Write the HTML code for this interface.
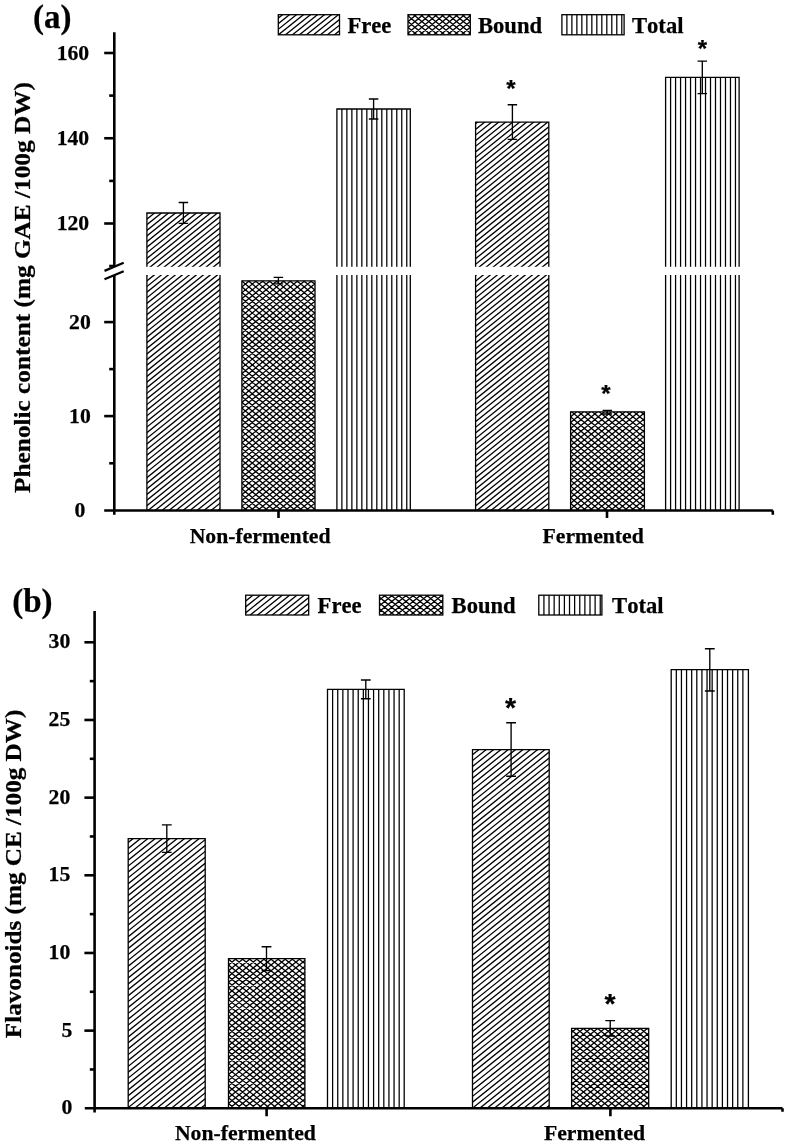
<!DOCTYPE html>
<html lang="en"><head><meta charset="utf-8"><title>Phenolic content and flavonoids</title>
<style>
html,body{margin:0;padding:0;background:#fff;}
body{width:786px;height:1147px;overflow:hidden;}
svg{display:block;will-change:transform;}
text{font-family:"Liberation Serif", "Times New Roman", serif;font-weight:bold;fill:#000;stroke:#000;stroke-width:0.25px;font-kerning:none;font-variant-ligatures:none;}
.t{font-size:21.7px;}
.lg{font-size:22.6px;}
.pl{font-size:33px;}
.yl{font-size:24.1px;}
.st{font-family:"Liberation Sans",sans-serif;}
</style></head><body>
<svg width="786" height="1147" viewBox="0 0 786 1147" shape-rendering="auto">

<clipPath id="c1"><rect x="146.90" y="213.00" width="73.10" height="297.50"/></clipPath>
<path clip-path="url(#c1)" d="M144.90,203.84L222.00,141.94M144.90,209.46L222.00,147.56M144.90,215.08L222.00,153.18M144.90,220.70L222.00,158.80M144.90,226.32L222.00,164.42M144.90,231.94L222.00,170.04M144.90,237.56L222.00,175.66M144.90,243.18L222.00,181.28M144.90,248.80L222.00,186.90M144.90,254.42L222.00,192.52M144.90,260.04L222.00,198.14M144.90,265.66L222.00,203.76M144.90,271.28L222.00,209.38M144.90,276.90L222.00,215.00M144.90,282.52L222.00,220.62M144.90,288.14L222.00,226.24M144.90,293.76L222.00,231.86M144.90,299.38L222.00,237.48M144.90,305.00L222.00,243.10M144.90,310.62L222.00,248.72M144.90,316.24L222.00,254.34M144.90,321.86L222.00,259.96M144.90,327.48L222.00,265.58M144.90,333.10L222.00,271.20M144.90,338.72L222.00,276.82M144.90,344.34L222.00,282.44M144.90,349.96L222.00,288.06M144.90,355.58L222.00,293.68M144.90,361.20L222.00,299.30M144.90,366.82L222.00,304.92M144.90,372.44L222.00,310.54M144.90,378.06L222.00,316.16M144.90,383.68L222.00,321.78M144.90,389.30L222.00,327.40M144.90,394.92L222.00,333.02M144.90,400.54L222.00,338.64M144.90,406.16L222.00,344.26M144.90,411.78L222.00,349.88M144.90,417.40L222.00,355.50M144.90,423.02L222.00,361.12M144.90,428.64L222.00,366.74M144.90,434.26L222.00,372.36M144.90,439.88L222.00,377.98M144.90,445.50L222.00,383.60M144.90,451.12L222.00,389.22M144.90,456.74L222.00,394.84M144.90,462.36L222.00,400.46M144.90,467.98L222.00,406.08M144.90,473.60L222.00,411.70M144.90,479.22L222.00,417.32M144.90,484.84L222.00,422.94M144.90,490.46L222.00,428.56M144.90,496.08L222.00,434.18M144.90,501.70L222.00,439.80M144.90,507.32L222.00,445.42M144.90,512.94L222.00,451.04M144.90,518.56L222.00,456.66M144.90,524.18L222.00,462.28M144.90,529.80L222.00,467.90M144.90,535.42L222.00,473.52M144.90,541.04L222.00,479.14M144.90,546.66L222.00,484.76M144.90,552.28L222.00,490.38M144.90,557.90L222.00,496.00M144.90,563.52L222.00,501.62M144.90,569.14L222.00,507.24M144.90,574.76L222.00,512.86M144.90,580.38L222.00,518.48" stroke="#000" stroke-width="1.3" fill="none"/>
<path d="M146.90,510.50V213.00H220.00V510.50" stroke="#000" stroke-width="1.3" fill="none"/>
<clipPath id="c2"><rect x="241.90" y="280.80" width="73.10" height="229.70"/></clipPath>
<path clip-path="url(#c2)" d="M239.90,271.34L317.00,207.05M239.90,277.11L317.00,212.82M239.90,282.88L317.00,218.59M239.90,288.65L317.00,224.36M239.90,294.42L317.00,230.13M239.90,300.19L317.00,235.90M239.90,305.96L317.00,241.67M239.90,311.73L317.00,247.44M239.90,317.50L317.00,253.21M239.90,323.27L317.00,258.98M239.90,329.04L317.00,264.75M239.90,334.81L317.00,270.52M239.90,340.58L317.00,276.29M239.90,346.35L317.00,282.06M239.90,352.12L317.00,287.83M239.90,357.89L317.00,293.60M239.90,363.66L317.00,299.37M239.90,369.43L317.00,305.14M239.90,375.20L317.00,310.91M239.90,380.97L317.00,316.68M239.90,386.74L317.00,322.45M239.90,392.51L317.00,328.22M239.90,398.28L317.00,333.99M239.90,404.05L317.00,339.76M239.90,409.82L317.00,345.53M239.90,415.59L317.00,351.30M239.90,421.36L317.00,357.07M239.90,427.13L317.00,362.84M239.90,432.90L317.00,368.61M239.90,438.67L317.00,374.38M239.90,444.44L317.00,380.15M239.90,450.21L317.00,385.92M239.90,455.98L317.00,391.69M239.90,461.75L317.00,397.46M239.90,467.52L317.00,403.23M239.90,473.29L317.00,409.00M239.90,479.06L317.00,414.77M239.90,484.83L317.00,420.54M239.90,490.60L317.00,426.31M239.90,496.37L317.00,432.08M239.90,502.14L317.00,437.85M239.90,507.91L317.00,443.62M239.90,513.68L317.00,449.39M239.90,519.45L317.00,455.16M239.90,525.22L317.00,460.93M239.90,530.99L317.00,466.70M239.90,536.76L317.00,472.47M239.90,542.53L317.00,478.24M239.90,548.30L317.00,484.01M239.90,554.07L317.00,489.78M239.90,559.84L317.00,495.55M239.90,565.61L317.00,501.32M239.90,571.38L317.00,507.09M239.90,577.15L317.00,512.86M239.90,582.92L317.00,518.63M239.90,210.26L317.00,274.55M239.90,216.03L317.00,280.32M239.90,221.80L317.00,286.09M239.90,227.57L317.00,291.86M239.90,233.34L317.00,297.63M239.90,239.11L317.00,303.40M239.90,244.88L317.00,309.17M239.90,250.65L317.00,314.94M239.90,256.42L317.00,320.71M239.90,262.19L317.00,326.48M239.90,267.96L317.00,332.25M239.90,273.73L317.00,338.02M239.90,279.50L317.00,343.79M239.90,285.27L317.00,349.56M239.90,291.04L317.00,355.33M239.90,296.81L317.00,361.10M239.90,302.58L317.00,366.87M239.90,308.35L317.00,372.64M239.90,314.12L317.00,378.41M239.90,319.89L317.00,384.18M239.90,325.66L317.00,389.95M239.90,331.43L317.00,395.72M239.90,337.20L317.00,401.49M239.90,342.97L317.00,407.26M239.90,348.74L317.00,413.03M239.90,354.51L317.00,418.80M239.90,360.28L317.00,424.57M239.90,366.05L317.00,430.34M239.90,371.82L317.00,436.11M239.90,377.59L317.00,441.88M239.90,383.36L317.00,447.65M239.90,389.13L317.00,453.42M239.90,394.90L317.00,459.19M239.90,400.67L317.00,464.96M239.90,406.44L317.00,470.73M239.90,412.21L317.00,476.50M239.90,417.98L317.00,482.27M239.90,423.75L317.00,488.04M239.90,429.52L317.00,493.81M239.90,435.29L317.00,499.58M239.90,441.06L317.00,505.35M239.90,446.83L317.00,511.12M239.90,452.60L317.00,516.89M239.90,458.37L317.00,522.66M239.90,464.14L317.00,528.43M239.90,469.91L317.00,534.20M239.90,475.68L317.00,539.97M239.90,481.45L317.00,545.74M239.90,487.22L317.00,551.51M239.90,492.99L317.00,557.28M239.90,498.76L317.00,563.05M239.90,504.53L317.00,568.82M239.90,510.30L317.00,574.59M239.90,516.07L317.00,580.36" stroke="#000" stroke-width="1.32" fill="none"/>
<path d="M241.90,510.50V280.80H315.00V510.50" stroke="#000" stroke-width="1.3" fill="none"/>
<path d="M341.89,109.00V510.50M346.88,109.00V510.50M351.87,109.00V510.50M356.86,109.00V510.50M361.85,109.00V510.50M366.84,109.00V510.50M371.83,109.00V510.50M376.82,109.00V510.50M381.81,109.00V510.50M386.80,109.00V510.50M391.79,109.00V510.50M396.78,109.00V510.50M401.77,109.00V510.50M406.76,109.00V510.50" stroke="#000" stroke-width="1.25" fill="none"/>
<path d="M336.90,510.50V109.00H410.30V510.50" stroke="#000" stroke-width="1.3" fill="none"/>
<clipPath id="c3"><rect x="475.60" y="122.10" width="73.20" height="388.40"/></clipPath>
<path clip-path="url(#c3)" d="M473.60,114.16L550.80,52.18M473.60,119.78L550.80,57.80M473.60,125.40L550.80,63.42M473.60,131.02L550.80,69.04M473.60,136.64L550.80,74.66M473.60,142.26L550.80,80.28M473.60,147.88L550.80,85.90M473.60,153.50L550.80,91.52M473.60,159.12L550.80,97.14M473.60,164.74L550.80,102.76M473.60,170.36L550.80,108.38M473.60,175.98L550.80,114.00M473.60,181.60L550.80,119.62M473.60,187.22L550.80,125.24M473.60,192.84L550.80,130.86M473.60,198.46L550.80,136.48M473.60,204.08L550.80,142.10M473.60,209.70L550.80,147.72M473.60,215.32L550.80,153.34M473.60,220.94L550.80,158.96M473.60,226.56L550.80,164.58M473.60,232.18L550.80,170.20M473.60,237.80L550.80,175.82M473.60,243.42L550.80,181.44M473.60,249.04L550.80,187.06M473.60,254.66L550.80,192.68M473.60,260.28L550.80,198.30M473.60,265.90L550.80,203.92M473.60,271.52L550.80,209.54M473.60,277.14L550.80,215.16M473.60,282.76L550.80,220.78M473.60,288.38L550.80,226.40M473.60,294.00L550.80,232.02M473.60,299.62L550.80,237.64M473.60,305.24L550.80,243.26M473.60,310.86L550.80,248.88M473.60,316.48L550.80,254.50M473.60,322.10L550.80,260.12M473.60,327.72L550.80,265.74M473.60,333.34L550.80,271.36M473.60,338.96L550.80,276.98M473.60,344.58L550.80,282.60M473.60,350.20L550.80,288.22M473.60,355.82L550.80,293.84M473.60,361.44L550.80,299.46M473.60,367.06L550.80,305.08M473.60,372.68L550.80,310.70M473.60,378.30L550.80,316.32M473.60,383.92L550.80,321.94M473.60,389.54L550.80,327.56M473.60,395.16L550.80,333.18M473.60,400.78L550.80,338.80M473.60,406.40L550.80,344.42M473.60,412.02L550.80,350.04M473.60,417.64L550.80,355.66M473.60,423.26L550.80,361.28M473.60,428.88L550.80,366.90M473.60,434.50L550.80,372.52M473.60,440.12L550.80,378.14M473.60,445.74L550.80,383.76M473.60,451.36L550.80,389.38M473.60,456.98L550.80,395.00M473.60,462.60L550.80,400.62M473.60,468.22L550.80,406.24M473.60,473.84L550.80,411.86M473.60,479.46L550.80,417.48M473.60,485.08L550.80,423.10M473.60,490.70L550.80,428.72M473.60,496.32L550.80,434.34M473.60,501.94L550.80,439.96M473.60,507.56L550.80,445.58M473.60,513.18L550.80,451.20M473.60,518.80L550.80,456.82M473.60,524.42L550.80,462.44M473.60,530.04L550.80,468.06M473.60,535.66L550.80,473.68M473.60,541.28L550.80,479.30M473.60,546.90L550.80,484.92M473.60,552.52L550.80,490.54M473.60,558.14L550.80,496.16M473.60,563.76L550.80,501.78M473.60,569.38L550.80,507.40M473.60,575.00L550.80,513.02M473.60,580.62L550.80,518.64" stroke="#000" stroke-width="1.3" fill="none"/>
<path d="M475.60,510.50V122.10H548.80V510.50" stroke="#000" stroke-width="1.3" fill="none"/>
<clipPath id="c4"><rect x="570.60" y="411.80" width="73.80" height="98.70"/></clipPath>
<path clip-path="url(#c4)" d="M568.60,406.93L646.40,342.06M568.60,412.70L646.40,347.83M568.60,418.47L646.40,353.60M568.60,424.24L646.40,359.37M568.60,430.01L646.40,365.14M568.60,435.78L646.40,370.91M568.60,441.55L646.40,376.68M568.60,447.32L646.40,382.45M568.60,453.09L646.40,388.22M568.60,458.86L646.40,393.99M568.60,464.63L646.40,399.76M568.60,470.40L646.40,405.53M568.60,476.17L646.40,411.30M568.60,481.94L646.40,417.07M568.60,487.71L646.40,422.84M568.60,493.48L646.40,428.61M568.60,499.25L646.40,434.38M568.60,505.02L646.40,440.15M568.60,510.79L646.40,445.92M568.60,516.56L646.40,451.69M568.60,522.33L646.40,457.46M568.60,528.10L646.40,463.23M568.60,533.87L646.40,469.00M568.60,539.64L646.40,474.77M568.60,545.41L646.40,480.54M568.60,551.18L646.40,486.31M568.60,556.95L646.40,492.08M568.60,562.72L646.40,497.85M568.60,568.49L646.40,503.62M568.60,574.26L646.40,509.39M568.60,580.03L646.40,515.16M568.60,340.09L646.40,404.96M568.60,345.86L646.40,410.73M568.60,351.63L646.40,416.50M568.60,357.40L646.40,422.27M568.60,363.17L646.40,428.04M568.60,368.94L646.40,433.81M568.60,374.71L646.40,439.58M568.60,380.48L646.40,445.35M568.60,386.25L646.40,451.12M568.60,392.02L646.40,456.89M568.60,397.79L646.40,462.66M568.60,403.56L646.40,468.43M568.60,409.33L646.40,474.20M568.60,415.10L646.40,479.97M568.60,420.87L646.40,485.74M568.60,426.64L646.40,491.51M568.60,432.41L646.40,497.28M568.60,438.18L646.40,503.05M568.60,443.95L646.40,508.82M568.60,449.72L646.40,514.59M568.60,455.49L646.40,520.36M568.60,461.26L646.40,526.13M568.60,467.03L646.40,531.90M568.60,472.80L646.40,537.67M568.60,478.57L646.40,543.44M568.60,484.34L646.40,549.21M568.60,490.11L646.40,554.98M568.60,495.88L646.40,560.75M568.60,501.65L646.40,566.52M568.60,507.42L646.40,572.29M568.60,513.19L646.40,578.06M568.60,518.96L646.40,583.83" stroke="#000" stroke-width="1.32" fill="none"/>
<path d="M570.60,510.50V411.80H644.40V510.50" stroke="#000" stroke-width="1.3" fill="none"/>
<path d="M670.59,77.40V510.50M675.58,77.40V510.50M680.57,77.40V510.50M685.56,77.40V510.50M690.55,77.40V510.50M695.54,77.40V510.50M700.53,77.40V510.50M705.52,77.40V510.50M710.51,77.40V510.50M715.50,77.40V510.50M720.49,77.40V510.50M725.48,77.40V510.50M730.47,77.40V510.50M735.46,77.40V510.50" stroke="#000" stroke-width="1.25" fill="none"/>
<path d="M665.60,510.50V77.40H739.10V510.50" stroke="#000" stroke-width="1.3" fill="none"/>
<rect x="120" y="266.8" width="660" height="8.2" fill="#fff"/>
<path d="M183.40,202.50V223.40M178.65,202.50H188.15M178.65,223.40H188.15" stroke="#000" stroke-width="1.35" fill="none"/>
<path d="M278.40,277.30V283.80M273.65,277.30H283.15M273.65,283.80H283.15" stroke="#000" stroke-width="1.35" fill="none"/>
<path d="M373.60,99.00V119.00M368.85,99.00H378.35M368.85,119.00H378.35" stroke="#000" stroke-width="1.35" fill="none"/>
<path d="M512.40,104.70V139.40M507.65,104.70H517.15M507.65,139.40H517.15" stroke="#000" stroke-width="1.35" fill="none"/>
<path d="M607.30,410.30V414.00M602.55,410.30H612.05M602.55,414.00H612.05" stroke="#000" stroke-width="1.35" fill="none"/>
<path d="M702.30,61.10V93.60M697.55,61.10H707.05M697.55,93.60H707.05" stroke="#000" stroke-width="1.35" fill="none"/>
<path d="M114.3,32.2V266.5M114.3,275V514.8" stroke="#000" stroke-width="2.6" fill="none"/>
<path d="M104.2,510.5H772.8" stroke="#000" stroke-width="2.6" fill="none"/>
<path d="M104.5,270.9L123.7,262.8M104.5,279.3L123.7,271.2" stroke="#000" stroke-width="2.3" fill="none"/>
<path d="M104.2,53H114.3" stroke="#000" stroke-width="2.6" fill="none"/>
<path d="M104.2,138.25H114.3" stroke="#000" stroke-width="2.6" fill="none"/>
<path d="M104.2,223.5H114.3" stroke="#000" stroke-width="2.6" fill="none"/>
<path d="M104.2,322.1H114.3" stroke="#000" stroke-width="2.6" fill="none"/>
<path d="M104.2,416.1H114.3" stroke="#000" stroke-width="2.6" fill="none"/>
<path d="M109.2,95.6H114.3" stroke="#000" stroke-width="2.6" fill="none"/>
<path d="M109.2,180.9H114.3" stroke="#000" stroke-width="2.6" fill="none"/>
<path d="M109.2,266.0H114.3" stroke="#000" stroke-width="2.6" fill="none"/>
<path d="M109.2,369.1H114.3" stroke="#000" stroke-width="2.6" fill="none"/>
<path d="M109.2,463.3H114.3" stroke="#000" stroke-width="2.6" fill="none"/>
<path d="M278.5,510.5V518M607,510.5V518M772.8,510.5V514.8" stroke="#000" stroke-width="2.6" fill="none"/>
<text class="t" x="89.2" y="59.70" text-anchor="end">160</text>
<text class="t" x="89.2" y="144.95" text-anchor="end">140</text>
<text class="t" x="89.2" y="230.20" text-anchor="end">120</text>
<text class="t" x="90.8" y="328.80" text-anchor="end">20</text>
<text class="t" x="90.8" y="422.80" text-anchor="end">10</text>
<text class="t" x="80" y="516.50" text-anchor="middle">0</text>
<text class="t" x="260.1" y="542.6" text-anchor="middle">Non-fermented</text>
<text class="t" x="593.2" y="542.6" text-anchor="middle">Fermented</text>
<text class="yl" transform="translate(29.7,492.9) rotate(-90) scale(1.05,1)" x="0" y="0">Phenolic content (mg GAE /100g DW)</text>
<text class="pl" x="33" y="28">(a)</text>
<clipPath id="c5"><rect x="278.30" y="14.70" width="61.20" height="20.10"/></clipPath>
<path clip-path="url(#c5)" d="M276.30,8.42L341.50,-43.93M276.30,14.04L341.50,-38.31M276.30,19.66L341.50,-32.69M276.30,25.28L341.50,-27.07M276.30,30.90L341.50,-21.45M276.30,36.52L341.50,-15.83M276.30,42.14L341.50,-10.21M276.30,47.76L341.50,-4.59M276.30,53.38L341.50,1.03M276.30,59.00L341.50,6.65M276.30,64.62L341.50,12.27M276.30,70.24L341.50,17.89M276.30,75.86L341.50,23.51M276.30,81.48L341.50,29.13M276.30,87.10L341.50,34.75M276.30,92.72L341.50,40.37" stroke="#000" stroke-width="1.3" fill="none"/>
<rect x="278.30" y="14.70" width="61.20" height="20.10" stroke="#000" stroke-width="1.3" fill="none"/>
<text class="lg" x="347.5" y="32.5">Free</text>
<clipPath id="c6"><rect x="408.00" y="14.70" width="62.30" height="20.10"/></clipPath>
<path clip-path="url(#c6)" d="M406.00,5.90L472.30,-49.38M406.00,11.67L472.30,-43.61M406.00,17.44L472.30,-37.84M406.00,23.21L472.30,-32.07M406.00,28.98L472.30,-26.30M406.00,34.75L472.30,-20.53M406.00,40.52L472.30,-14.76M406.00,46.29L472.30,-8.99M406.00,52.06L472.30,-3.22M406.00,57.83L472.30,2.55M406.00,63.60L472.30,8.32M406.00,69.37L472.30,14.09M406.00,75.14L472.30,19.86M406.00,80.91L472.30,25.63M406.00,86.68L472.30,31.40M406.00,92.45L472.30,37.17M406.00,98.22L472.30,42.94M406.00,-49.37L472.30,5.91M406.00,-43.60L472.30,11.68M406.00,-37.83L472.30,17.45M406.00,-32.06L472.30,23.22M406.00,-26.29L472.30,28.99M406.00,-20.52L472.30,34.76M406.00,-14.75L472.30,40.53M406.00,-8.98L472.30,46.30M406.00,-3.21L472.30,52.07M406.00,2.56L472.30,57.84M406.00,8.33L472.30,63.61M406.00,14.10L472.30,69.38M406.00,19.87L472.30,75.15M406.00,25.64L472.30,80.92M406.00,31.41L472.30,86.69M406.00,37.18L472.30,92.46M406.00,42.95L472.30,98.23" stroke="#000" stroke-width="1.32" fill="none"/>
<rect x="408.00" y="14.70" width="62.30" height="20.10" stroke="#000" stroke-width="1.3" fill="none"/>
<text class="lg" x="478" y="32.5">Bound</text>
<path d="M566.89,14.70V34.80M571.88,14.70V34.80M576.87,14.70V34.80M581.86,14.70V34.80M586.85,14.70V34.80M591.84,14.70V34.80M596.83,14.70V34.80M601.82,14.70V34.80M606.81,14.70V34.80M611.80,14.70V34.80M616.79,14.70V34.80M621.78,14.70V34.80" stroke="#000" stroke-width="1.25" fill="none"/>
<rect x="561.90" y="14.70" width="62.20" height="20.10" stroke="#000" stroke-width="1.3" fill="none"/>
<text class="lg" x="632" y="32.5">Total</text>
<text class="st" style="font-size:24px" x="510.80" y="96.60" text-anchor="middle">*</text>
<text class="st" style="font-size:24px" x="702.50" y="56.70" text-anchor="middle">*</text>
<text class="st" style="font-size:24px" x="606.00" y="402.40" text-anchor="middle">*</text>
<clipPath id="c7"><rect x="128.20" y="838.60" width="77.00" height="269.70"/></clipPath>
<path clip-path="url(#c7)" d="M126.20,832.35L207.20,767.35M126.20,838.24L207.20,773.24M126.20,844.13L207.20,779.13M126.20,850.02L207.20,785.02M126.20,855.91L207.20,790.91M126.20,861.80L207.20,796.80M126.20,867.69L207.20,802.69M126.20,873.58L207.20,808.58M126.20,879.47L207.20,814.47M126.20,885.36L207.20,820.36M126.20,891.25L207.20,826.25M126.20,897.14L207.20,832.14M126.20,903.03L207.20,838.03M126.20,908.92L207.20,843.92M126.20,914.81L207.20,849.81M126.20,920.70L207.20,855.70M126.20,926.59L207.20,861.59M126.20,932.48L207.20,867.48M126.20,938.37L207.20,873.37M126.20,944.26L207.20,879.26M126.20,950.15L207.20,885.15M126.20,956.04L207.20,891.04M126.20,961.93L207.20,896.93M126.20,967.82L207.20,902.82M126.20,973.71L207.20,908.71M126.20,979.60L207.20,914.60M126.20,985.49L207.20,920.49M126.20,991.38L207.20,926.38M126.20,997.27L207.20,932.27M126.20,1003.16L207.20,938.16M126.20,1009.05L207.20,944.05M126.20,1014.94L207.20,949.94M126.20,1020.83L207.20,955.83M126.20,1026.72L207.20,961.72M126.20,1032.61L207.20,967.61M126.20,1038.50L207.20,973.50M126.20,1044.39L207.20,979.39M126.20,1050.28L207.20,985.28M126.20,1056.17L207.20,991.17M126.20,1062.06L207.20,997.06M126.20,1067.95L207.20,1002.95M126.20,1073.84L207.20,1008.84M126.20,1079.73L207.20,1014.73M126.20,1085.62L207.20,1020.62M126.20,1091.51L207.20,1026.51M126.20,1097.40L207.20,1032.40M126.20,1103.29L207.20,1038.29M126.20,1109.18L207.20,1044.18M126.20,1115.07L207.20,1050.07M126.20,1120.96L207.20,1055.96M126.20,1126.85L207.20,1061.85M126.20,1132.74L207.20,1067.74M126.20,1138.63L207.20,1073.63M126.20,1144.52L207.20,1079.52M126.20,1150.41L207.20,1085.41M126.20,1156.30L207.20,1091.30M126.20,1162.19L207.20,1097.19M126.20,1168.08L207.20,1103.08M126.20,1173.97L207.20,1108.97M126.20,1179.86L207.20,1114.86" stroke="#000" stroke-width="1.3" fill="none"/>
<path d="M128.20,1108.30V838.60H205.20V1108.30" stroke="#000" stroke-width="1.3" fill="none"/>
<clipPath id="c8"><rect x="228.50" y="958.70" width="76.40" height="149.60"/></clipPath>
<path clip-path="url(#c8)" d="M226.50,949.25L306.90,883.91M226.50,955.02L306.90,889.68M226.50,960.79L306.90,895.45M226.50,966.56L306.90,901.22M226.50,972.33L306.90,906.99M226.50,978.10L306.90,912.76M226.50,983.87L306.90,918.53M226.50,989.64L306.90,924.30M226.50,995.41L306.90,930.07M226.50,1001.18L306.90,935.84M226.50,1006.95L306.90,941.61M226.50,1012.72L306.90,947.38M226.50,1018.49L306.90,953.15M226.50,1024.26L306.90,958.92M226.50,1030.03L306.90,964.69M226.50,1035.80L306.90,970.46M226.50,1041.57L306.90,976.23M226.50,1047.34L306.90,982.00M226.50,1053.11L306.90,987.77M226.50,1058.88L306.90,993.54M226.50,1064.65L306.90,999.31M226.50,1070.42L306.90,1005.08M226.50,1076.19L306.90,1010.85M226.50,1081.96L306.90,1016.62M226.50,1087.73L306.90,1022.39M226.50,1093.50L306.90,1028.16M226.50,1099.27L306.90,1033.93M226.50,1105.04L306.90,1039.70M226.50,1110.81L306.90,1045.47M226.50,1116.58L306.90,1051.24M226.50,1122.35L306.90,1057.01M226.50,1128.12L306.90,1062.78M226.50,1133.89L306.90,1068.55M226.50,1139.66L306.90,1074.32M226.50,1145.43L306.90,1080.09M226.50,1151.20L306.90,1085.86M226.50,1156.97L306.90,1091.63M226.50,1162.74L306.90,1097.40M226.50,1168.51L306.90,1103.17M226.50,1174.28L306.90,1108.94M226.50,1180.05L306.90,1114.71M226.50,888.41L306.90,953.75M226.50,894.18L306.90,959.52M226.50,899.95L306.90,965.29M226.50,905.72L306.90,971.06M226.50,911.49L306.90,976.83M226.50,917.26L306.90,982.60M226.50,923.03L306.90,988.37M226.50,928.80L306.90,994.14M226.50,934.57L306.90,999.91M226.50,940.34L306.90,1005.68M226.50,946.11L306.90,1011.45M226.50,951.88L306.90,1017.22M226.50,957.65L306.90,1022.99M226.50,963.42L306.90,1028.76M226.50,969.19L306.90,1034.53M226.50,974.96L306.90,1040.30M226.50,980.73L306.90,1046.07M226.50,986.50L306.90,1051.84M226.50,992.27L306.90,1057.61M226.50,998.04L306.90,1063.38M226.50,1003.81L306.90,1069.15M226.50,1009.58L306.90,1074.92M226.50,1015.35L306.90,1080.69M226.50,1021.12L306.90,1086.46M226.50,1026.89L306.90,1092.23M226.50,1032.66L306.90,1098.00M226.50,1038.43L306.90,1103.77M226.50,1044.20L306.90,1109.54M226.50,1049.97L306.90,1115.31M226.50,1055.74L306.90,1121.08M226.50,1061.51L306.90,1126.85M226.50,1067.28L306.90,1132.62M226.50,1073.05L306.90,1138.39M226.50,1078.82L306.90,1144.16M226.50,1084.59L306.90,1149.93M226.50,1090.36L306.90,1155.70M226.50,1096.13L306.90,1161.47M226.50,1101.90L306.90,1167.24M226.50,1107.67L306.90,1173.01M226.50,1113.44L306.90,1178.78" stroke="#000" stroke-width="1.32" fill="none"/>
<path d="M228.50,1108.30V958.70H304.90V1108.30" stroke="#000" stroke-width="1.3" fill="none"/>
<path d="M332.62,689.40V1108.30M337.74,689.40V1108.30M342.86,689.40V1108.30M347.98,689.40V1108.30M353.10,689.40V1108.30M358.22,689.40V1108.30M363.34,689.40V1108.30M368.46,689.40V1108.30M373.58,689.40V1108.30M378.70,689.40V1108.30M383.82,689.40V1108.30M388.94,689.40V1108.30M394.06,689.40V1108.30M399.18,689.40V1108.30" stroke="#000" stroke-width="1.25" fill="none"/>
<path d="M327.50,1108.30V689.40H404.20V1108.30" stroke="#000" stroke-width="1.3" fill="none"/>
<clipPath id="c9"><rect x="472.50" y="749.70" width="76.70" height="358.60"/></clipPath>
<path clip-path="url(#c9)" d="M470.50,744.55L551.20,679.79M470.50,750.44L551.20,685.68M470.50,756.33L551.20,691.57M470.50,762.22L551.20,697.46M470.50,768.11L551.20,703.35M470.50,774.00L551.20,709.24M470.50,779.89L551.20,715.13M470.50,785.78L551.20,721.02M470.50,791.67L551.20,726.91M470.50,797.56L551.20,732.80M470.50,803.45L551.20,738.69M470.50,809.34L551.20,744.58M470.50,815.23L551.20,750.47M470.50,821.12L551.20,756.36M470.50,827.01L551.20,762.25M470.50,832.90L551.20,768.14M470.50,838.79L551.20,774.03M470.50,844.68L551.20,779.92M470.50,850.57L551.20,785.81M470.50,856.46L551.20,791.70M470.50,862.35L551.20,797.59M470.50,868.24L551.20,803.48M470.50,874.13L551.20,809.37M470.50,880.02L551.20,815.26M470.50,885.91L551.20,821.15M470.50,891.80L551.20,827.04M470.50,897.69L551.20,832.93M470.50,903.58L551.20,838.82M470.50,909.47L551.20,844.71M470.50,915.36L551.20,850.60M470.50,921.25L551.20,856.49M470.50,927.14L551.20,862.38M470.50,933.03L551.20,868.27M470.50,938.92L551.20,874.16M470.50,944.81L551.20,880.05M470.50,950.70L551.20,885.94M470.50,956.59L551.20,891.83M470.50,962.48L551.20,897.72M470.50,968.37L551.20,903.61M470.50,974.26L551.20,909.50M470.50,980.15L551.20,915.39M470.50,986.04L551.20,921.28M470.50,991.93L551.20,927.17M470.50,997.82L551.20,933.06M470.50,1003.71L551.20,938.95M470.50,1009.60L551.20,944.84M470.50,1015.49L551.20,950.73M470.50,1021.38L551.20,956.62M470.50,1027.27L551.20,962.51M470.50,1033.16L551.20,968.40M470.50,1039.05L551.20,974.29M470.50,1044.94L551.20,980.18M470.50,1050.83L551.20,986.07M470.50,1056.72L551.20,991.96M470.50,1062.61L551.20,997.85M470.50,1068.50L551.20,1003.74M470.50,1074.39L551.20,1009.63M470.50,1080.28L551.20,1015.52M470.50,1086.17L551.20,1021.41M470.50,1092.06L551.20,1027.30M470.50,1097.95L551.20,1033.19M470.50,1103.84L551.20,1039.08M470.50,1109.73L551.20,1044.97M470.50,1115.62L551.20,1050.86M470.50,1121.51L551.20,1056.75M470.50,1127.40L551.20,1062.64M470.50,1133.29L551.20,1068.53M470.50,1139.18L551.20,1074.42M470.50,1145.07L551.20,1080.31M470.50,1150.96L551.20,1086.20M470.50,1156.85L551.20,1092.09M470.50,1162.74L551.20,1097.98M470.50,1168.63L551.20,1103.87M470.50,1174.52L551.20,1109.76M470.50,1180.41L551.20,1115.65" stroke="#000" stroke-width="1.3" fill="none"/>
<path d="M472.50,1108.30V749.70H549.20V1108.30" stroke="#000" stroke-width="1.3" fill="none"/>
<clipPath id="c10"><rect x="571.60" y="1028.40" width="77.10" height="79.90"/></clipPath>
<path clip-path="url(#c10)" d="M569.60,1022.39L650.70,956.48M569.60,1028.16L650.70,962.25M569.60,1033.93L650.70,968.02M569.60,1039.70L650.70,973.79M569.60,1045.47L650.70,979.56M569.60,1051.24L650.70,985.33M569.60,1057.01L650.70,991.10M569.60,1062.78L650.70,996.87M569.60,1068.55L650.70,1002.64M569.60,1074.32L650.70,1008.41M569.60,1080.09L650.70,1014.18M569.60,1085.86L650.70,1019.95M569.60,1091.63L650.70,1025.72M569.60,1097.40L650.70,1031.49M569.60,1103.17L650.70,1037.26M569.60,1108.94L650.70,1043.03M569.60,1114.71L650.70,1048.80M569.60,1120.48L650.70,1054.57M569.60,1126.25L650.70,1060.34M569.60,1132.02L650.70,1066.11M569.60,1137.79L650.70,1071.88M569.60,1143.56L650.70,1077.65M569.60,1149.33L650.70,1083.42M569.60,1155.10L650.70,1089.19M569.60,1160.87L650.70,1094.96M569.60,1166.64L650.70,1100.73M569.60,1172.41L650.70,1106.50M569.60,1178.18L650.70,1112.27M569.60,1183.95L650.70,1118.04M569.60,953.75L650.70,1019.66M569.60,959.52L650.70,1025.43M569.60,965.29L650.70,1031.20M569.60,971.06L650.70,1036.97M569.60,976.83L650.70,1042.74M569.60,982.60L650.70,1048.51M569.60,988.37L650.70,1054.28M569.60,994.14L650.70,1060.05M569.60,999.91L650.70,1065.82M569.60,1005.68L650.70,1071.59M569.60,1011.45L650.70,1077.36M569.60,1017.22L650.70,1083.13M569.60,1022.99L650.70,1088.90M569.60,1028.76L650.70,1094.67M569.60,1034.53L650.70,1100.44M569.60,1040.30L650.70,1106.21M569.60,1046.07L650.70,1111.98M569.60,1051.84L650.70,1117.75M569.60,1057.61L650.70,1123.52M569.60,1063.38L650.70,1129.29M569.60,1069.15L650.70,1135.06M569.60,1074.92L650.70,1140.83M569.60,1080.69L650.70,1146.60M569.60,1086.46L650.70,1152.37M569.60,1092.23L650.70,1158.14M569.60,1098.00L650.70,1163.91M569.60,1103.77L650.70,1169.68M569.60,1109.54L650.70,1175.45M569.60,1115.31L650.70,1181.22" stroke="#000" stroke-width="1.32" fill="none"/>
<path d="M571.60,1108.30V1028.40H648.70V1108.30" stroke="#000" stroke-width="1.3" fill="none"/>
<path d="M676.32,669.70V1108.30M681.44,669.70V1108.30M686.56,669.70V1108.30M691.68,669.70V1108.30M696.80,669.70V1108.30M701.92,669.70V1108.30M707.04,669.70V1108.30M712.16,669.70V1108.30M717.28,669.70V1108.30M722.40,669.70V1108.30M727.52,669.70V1108.30M732.64,669.70V1108.30M737.76,669.70V1108.30M742.88,669.70V1108.30" stroke="#000" stroke-width="1.25" fill="none"/>
<path d="M671.20,1108.30V669.70H748.40V1108.30" stroke="#000" stroke-width="1.3" fill="none"/>
<path d="M166.80,824.90V852.30M161.90,824.90H171.70M161.90,852.30H171.70" stroke="#000" stroke-width="1.35" fill="none"/>
<path d="M266.50,946.70V970.60M261.60,946.70H271.40M261.60,970.60H271.40" stroke="#000" stroke-width="1.35" fill="none"/>
<path d="M365.80,680.00V698.70M360.90,680.00H370.70M360.90,698.70H370.70" stroke="#000" stroke-width="1.35" fill="none"/>
<path d="M511.10,722.70V776.20M506.20,722.70H516.00M506.20,776.20H516.00" stroke="#000" stroke-width="1.35" fill="none"/>
<path d="M610.20,1020.60V1036.00M605.30,1020.60H615.10M605.30,1036.00H615.10" stroke="#000" stroke-width="1.35" fill="none"/>
<path d="M709.80,648.70V691.00M704.90,648.70H714.70M704.90,691.00H714.70" stroke="#000" stroke-width="1.35" fill="none"/>
<path d="M94.6,611V1112.5" stroke="#000" stroke-width="2.6" fill="none"/>
<path d="M84.8,1108.3H782.5" stroke="#000" stroke-width="2.6" fill="none"/>
<path d="M84.4,1030.63H94.6" stroke="#000" stroke-width="2.6" fill="none"/>
<text class="t" x="72.4" y="1036.63" text-anchor="end">5</text>
<path d="M84.4,952.97H94.6" stroke="#000" stroke-width="2.6" fill="none"/>
<text class="t" x="70.3" y="958.97" text-anchor="end">10</text>
<path d="M84.4,875.30H94.6" stroke="#000" stroke-width="2.6" fill="none"/>
<text class="t" x="70.3" y="881.30" text-anchor="end">15</text>
<path d="M84.4,797.63H94.6" stroke="#000" stroke-width="2.6" fill="none"/>
<text class="t" x="70.3" y="803.63" text-anchor="end">20</text>
<path d="M84.4,719.97H94.6" stroke="#000" stroke-width="2.6" fill="none"/>
<text class="t" x="70.3" y="725.97" text-anchor="end">25</text>
<path d="M84.4,642.30H94.6" stroke="#000" stroke-width="2.6" fill="none"/>
<text class="t" x="70.3" y="648.30" text-anchor="end">30</text>
<path d="M89.8,1069.47H94.6" stroke="#000" stroke-width="2.6" fill="none"/>
<path d="M89.8,991.80H94.6" stroke="#000" stroke-width="2.6" fill="none"/>
<path d="M89.8,914.13H94.6" stroke="#000" stroke-width="2.6" fill="none"/>
<path d="M89.8,836.47H94.6" stroke="#000" stroke-width="2.6" fill="none"/>
<path d="M89.8,758.80H94.6" stroke="#000" stroke-width="2.6" fill="none"/>
<path d="M89.8,681.13H94.6" stroke="#000" stroke-width="2.6" fill="none"/>
<text class="t" x="72.4" y="1114.30" text-anchor="end">0</text>
<path d="M266.6,1108.3V1116.2M610.4,1108.3V1116.2M782.5,1108.3V1111.8" stroke="#000" stroke-width="2.6" fill="none"/>
<text class="t" x="245.4" y="1139.6" text-anchor="middle">Non-fermented</text>
<text class="t" x="594.5" y="1139.6" text-anchor="middle">Fermented</text>
<text class="yl" transform="translate(20.8,1038.2) rotate(-90) scale(1.045,1)" x="0" y="0">Flavonoids (mg CE /100g DW)</text>
<text class="pl" x="12.2" y="611.7">(b)</text>
<text class="st" style="font-size:28.5px" x="510.50" y="717.45" text-anchor="middle">*</text>
<text class="st" style="font-size:28.5px" x="610.10" y="1013.45" text-anchor="middle">*</text>
<clipPath id="c11"><rect x="245.70" y="595.20" width="63.00" height="19.80"/></clipPath>
<path clip-path="url(#c11)" d="M243.70,590.81L310.70,537.05M243.70,596.70L310.70,542.94M243.70,602.59L310.70,548.83M243.70,608.48L310.70,554.72M243.70,614.37L310.70,560.61M243.70,620.26L310.70,566.50M243.70,626.15L310.70,572.39M243.70,632.04L310.70,578.28M243.70,637.93L310.70,584.17M243.70,643.82L310.70,590.06M243.70,649.71L310.70,595.95M243.70,655.60L310.70,601.84M243.70,661.49L310.70,607.73M243.70,667.38L310.70,613.62M243.70,673.27L310.70,619.51" stroke="#000" stroke-width="1.3" fill="none"/>
<rect x="245.70" y="595.20" width="63.00" height="19.80" stroke="#000" stroke-width="1.3" fill="none"/>
<text class="lg" x="317.6" y="612.9">Free</text>
<clipPath id="c12"><rect x="379.50" y="595.20" width="63.30" height="19.80"/></clipPath>
<path clip-path="url(#c12)" d="M377.50,589.96L444.80,535.27M377.50,595.73L444.80,541.04M377.50,601.50L444.80,546.81M377.50,607.27L444.80,552.58M377.50,613.04L444.80,558.35M377.50,618.81L444.80,564.12M377.50,624.58L444.80,569.89M377.50,630.35L444.80,575.66M377.50,636.12L444.80,581.43M377.50,641.89L444.80,587.20M377.50,647.66L444.80,592.97M377.50,653.43L444.80,598.74M377.50,659.20L444.80,604.51M377.50,664.97L444.80,610.28M377.50,670.74L444.80,616.05M377.50,676.51L444.80,621.82M377.50,532.22L444.80,586.91M377.50,537.99L444.80,592.68M377.50,543.76L444.80,598.45M377.50,549.53L444.80,604.22M377.50,555.30L444.80,609.99M377.50,561.07L444.80,615.76M377.50,566.84L444.80,621.53M377.50,572.61L444.80,627.30M377.50,578.38L444.80,633.07M377.50,584.15L444.80,638.84M377.50,589.92L444.80,644.61M377.50,595.69L444.80,650.38M377.50,601.46L444.80,656.15M377.50,607.23L444.80,661.92M377.50,613.00L444.80,667.69M377.50,618.77L444.80,673.46M377.50,624.54L444.80,679.23" stroke="#000" stroke-width="1.32" fill="none"/>
<rect x="379.50" y="595.20" width="63.30" height="19.80" stroke="#000" stroke-width="1.3" fill="none"/>
<text class="lg" x="451.6" y="612.9">Bound</text>
<path d="M543.92,595.20V615.00M549.04,595.20V615.00M554.16,595.20V615.00M559.28,595.20V615.00M564.40,595.20V615.00M569.52,595.20V615.00M574.64,595.20V615.00M579.76,595.20V615.00M584.88,595.20V615.00M590.00,595.20V615.00M595.12,595.20V615.00M600.24,595.20V615.00" stroke="#000" stroke-width="1.25" fill="none"/>
<rect x="538.80" y="595.20" width="63.10" height="19.80" stroke="#000" stroke-width="1.3" fill="none"/>
<text class="lg" x="612.1" y="612.9">Total</text>
</svg></body></html>
